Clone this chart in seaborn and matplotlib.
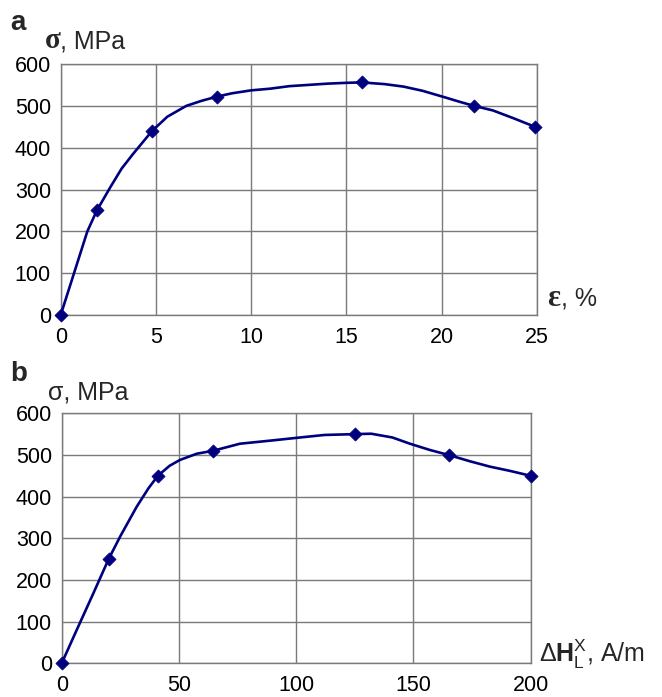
import matplotlib
matplotlib.use("Agg")
import matplotlib.pyplot as plt
import seaborn as sns
import pandas as pd

# ---- panel a: stress vs. strain ----
strain_pts = [0, 1.9, 4.8, 8.2, 15.8, 21.7, 24.9]
stress_a_pts = [0, 250, 440, 522, 556, 500, 450]
# traced curve through the measurements
strain_curve = [0, 0.35, 0.7, 1.05, 1.4, 1.9, 2.6, 3.2, 3.8, 4.8, 5.6, 6.6,
                7.4, 8.2, 9.0, 10.0, 11.0, 12.0, 13.0, 14.0, 15.0, 15.8,
                17.0, 18.0, 19.0, 20.2, 21.0, 21.7, 22.7, 23.8, 24.9]
stress_a_curve = [0, 50, 100, 150, 200, 250, 305, 350, 385, 440, 474, 500,
                  512, 522, 530, 537, 541, 547, 550, 553, 555, 556,
                  552, 546, 536, 520, 509, 500, 489, 470, 450]

# ---- panel b: stress vs. field increment ----
field_pts = [0, 20, 41, 64.5, 125, 165, 200]
stress_b_pts = [0, 250, 450, 510, 550, 500, 450]
field_curve = [0, 6.4, 13.5, 20, 25, 32, 37, 41, 46, 50.4, 57.6, 64.5, 76,
               90, 100, 112, 125, 132, 141, 148.5, 157, 165, 174, 182.6,
               191, 200]
stress_b_curve = [0, 80, 168, 250, 305, 376, 420, 450, 474, 488, 503, 510,
                  527, 535, 541, 548, 550, 551, 542, 527, 512, 500, 485,
                  472, 462, 450]

y_ticks = [0, 100, 200, 300, 400, 500, 600]
x_ticks_a = [0, 5, 10, 15, 20, 25]
x_ticks_b = [0, 50, 100, 150, 200]

sns.set_style("white")
plt.rcParams["font.family"] = ["Liberation Sans", "DejaVu Sans"]
plt.rcParams["mathtext.fontset"] = "custom"
plt.rcParams["mathtext.rm"] = "Liberation Sans"
plt.rcParams["mathtext.it"] = "Liberation Sans"
plt.rcParams["mathtext.bf"] = "Liberation Sans:bold"

W, H = 662, 697
fig = plt.figure(figsize=(W / 100, H / 100), dpi=100)


def box(l, t, r, b):
    return [l / W, 1 - b / H, (r - l) / W, (b - t) / H]


ax_a = fig.add_axes(box(60.7, 64, 536.7, 315))
ax_b = fig.add_axes(box(61.7, 413.3, 530.7, 663.3))

LINE = "#00007f"
GRID = "#7a7a7a"


def draw(ax, xc, yc, xp, yp, xticks, xmax):
    dc = pd.DataFrame({"x": xc, "y": yc})
    dp = pd.DataFrame({"x": xp, "y": yp})
    sns.lineplot(data=dc, x="x", y="y", ax=ax, color=LINE, linewidth=1.9,
                 sort=False, estimator=None, zorder=3,
                 solid_joinstyle="round", solid_capstyle="round")
    sns.scatterplot(data=dp, x="x", y="y", ax=ax, color=LINE, marker="D",
                    s=45, edgecolor=LINE, linewidth=0.5, zorder=4, clip_on=False)
    ax.set_xlim(0, xmax)
    ax.set_ylim(0, 600)
    ax.set_xticks(xticks)
    ax.set_yticks(y_ticks)
    ax.set_xlabel("")
    ax.set_ylabel("")
    ax.grid(True, color=GRID, linewidth=1.0)
    ax.set_axisbelow(True)
    for sp in ax.spines.values():
        sp.set_visible(True)
        sp.set_color(GRID)
        sp.set_linewidth(1.0)
    ax.tick_params(axis="both", length=3.5, width=1.0, color=GRID,
                   labelsize=15.5, labelcolor="black", direction="out")
    ax.tick_params(axis="y", pad=3.5)
    ax.tick_params(axis="x", pad=5)


draw(ax_a, strain_curve, stress_a_curve, strain_pts, stress_a_pts, x_ticks_a, 25)
draw(ax_b, field_curve, stress_b_curve, field_pts, stress_b_pts, x_ticks_b, 200)


def ftext(x, y, s, **kw):
    fig.text(x / W, 1 - y / H, s, **kw)


# panel letters
ftext(10, 30, "a", fontsize=20, fontweight="bold", va="baseline")
ftext(10, 381, "b", fontsize=20, fontweight="bold", va="baseline")

# panel a axis titles
ftext(45, 48, "σ", fontsize=21, fontweight="bold", family="Liberation Serif",
      va="baseline")
ftext(60, 48, ", MPa", fontsize=18, va="baseline")
ftext(547, 306, "ε", fontsize=22, fontweight="bold", family="Liberation Serif",
      va="baseline")
ftext(561, 306, ", %", fontsize=18, va="baseline")

# panel b axis titles
ftext(48, 399, "σ, MPa", fontsize=18, va="baseline")
ftext(539, 662, r"$\Delta\mathbf{H}_{L}^{X}$, A/m", fontsize=18, va="baseline")

fig.savefig("out.png", dpi=100)
